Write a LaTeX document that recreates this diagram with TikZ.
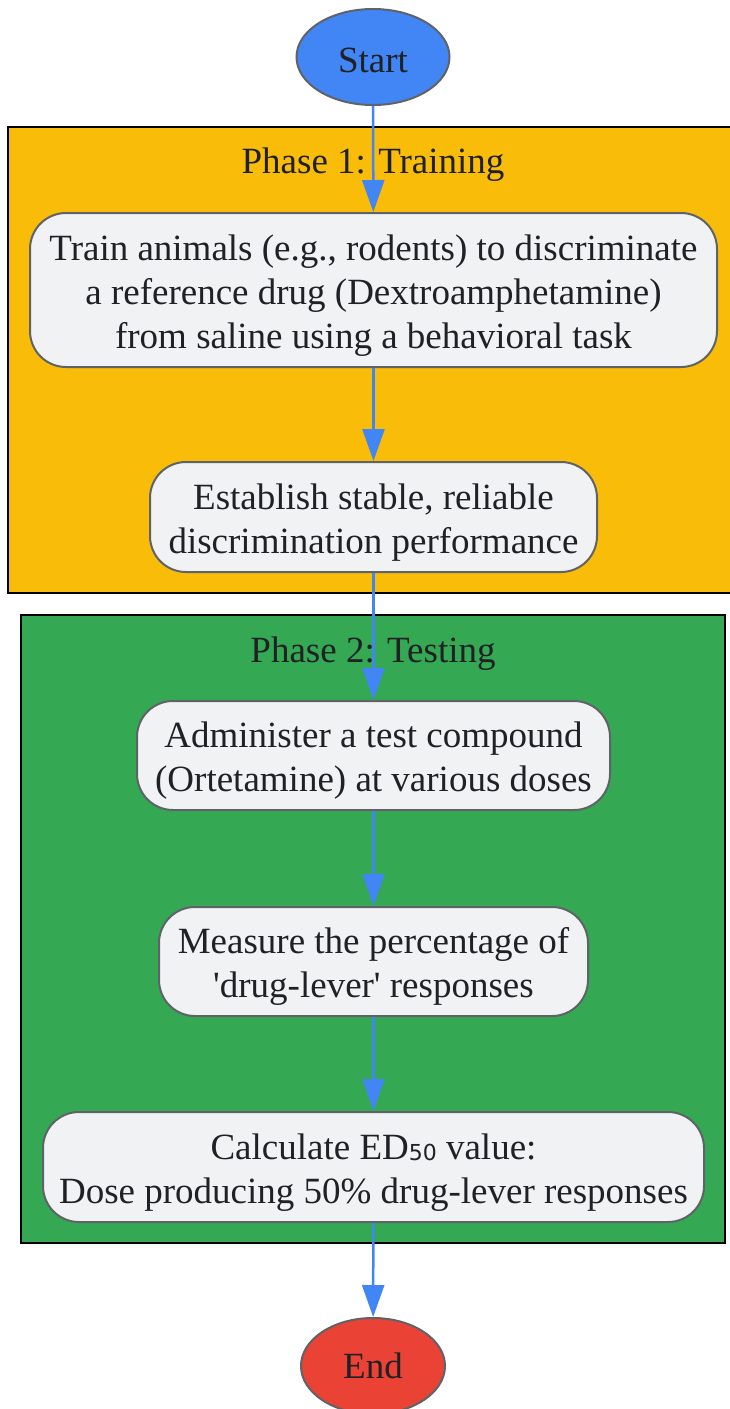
\documentclass[tikz,border=0pt]{standalone}
\usepackage{fontspec}
\setmainfont{Liberation Serif}[Ligatures=TeXOff]
\newfontfamily\subfont{DejaVu Sans}
\usetikzlibrary{shapes.geometric,arrows.meta}
\definecolor{startc}{HTML}{4285F4}
\definecolor{endc}{HTML}{EA4335}
\definecolor{phaseone}{HTML}{F9BC08}
\definecolor{phasetwo}{HTML}{34A853}
\definecolor{boxfill}{HTML}{F1F2F4}
\definecolor{boxline}{HTML}{5F6368}
\definecolor{txt}{HTML}{202124}
\definecolor{arrowc}{HTML}{4285F4}
\newcommand{\topstr}{\rule{0pt}{36pt}}
\newcommand{\botstr}{\rule[-8pt]{0pt}{8pt}}
\tikzset{
  every node/.style={text=txt, font=\fontsize{37}{44}\selectfont},
  term/.style={ellipse, draw=boxline, line width=2pt, inner sep=0pt},
  stepbox/.style={rectangle, rounded corners=36pt, draw=boxline, line width=2pt, fill=boxfill, align=center, inner sep=0pt},
  cluster/.style={draw=black, line width=2.5pt},
  flow/.style={draw=arrowc, line width=2.5pt, -{Triangle[length=32pt,width=22pt]}}
}
\begin{document}
\begin{tikzpicture}[x=1pt,y=-1pt]
\useasboundingbox (0,0) rectangle (730,1409);
\clip (0,0) rectangle (730,1409);
% clusters
\path[cluster, fill=phaseone] (8,127) rectangle (731,593);
\node[anchor=base] (t1) at (373,173) {Phase 1: Training};
\path[cluster, fill=phasetwo] (21,615) rectangle (725,1243);
\node[anchor=base] (t2) at (373,662) {Phase 2: Testing};
% nodes
\node[term, fill=startc, minimum width=153pt, minimum height=96pt] (start) at (373,57) {\rule[-6pt]{0pt}{42pt}Start};
\node[stepbox, minimum width=687pt, minimum height=154pt] (n1) at (373.5,290) {\topstr Train animals (e.g., rodents) to discriminate\\a reference drug (Dextroamphetamine)\\from saline using a behavioral task\botstr};
\node[stepbox, minimum width=447pt, minimum height=110pt] (n2) at (373.5,517) {\topstr Establish stable, reliable\\discrimination performance\botstr};
\node[stepbox, minimum width=473pt, minimum height=109pt] (n3) at (373.5,755.5) {\topstr Administer a test compound\\(Ortetamine) at various doses\botstr};
\node[stepbox, minimum width=429pt, minimum height=109pt] (n4) at (373.5,961.5) {\topstr Measure the percentage of\\'drug-lever' responses\botstr};
\node[stepbox, minimum width=661pt, minimum height=110pt] (n5) at (373.5,1167) {\topstr Calculate ED\raisebox{-1pt}{{\subfont\fontsize{22}{22}\selectfont 50}} value:\\Dose producing 50\% drug-lever responses\botstr};
\node[term, fill=endc, minimum width=144pt, minimum height=96pt] (end) at (373,1366) {\rule[-6pt]{0pt}{36pt}End};
% connectors
\draw[flow] (start) -- (n1);
\draw[flow] (n1) -- (n2);
\draw[flow] (n2) -- (n3);
\draw[flow] (n3) -- (n4);
\draw[flow] (n4) -- (n5);
\draw[flow] (n5) -- (end);
\end{tikzpicture}
\end{document}
